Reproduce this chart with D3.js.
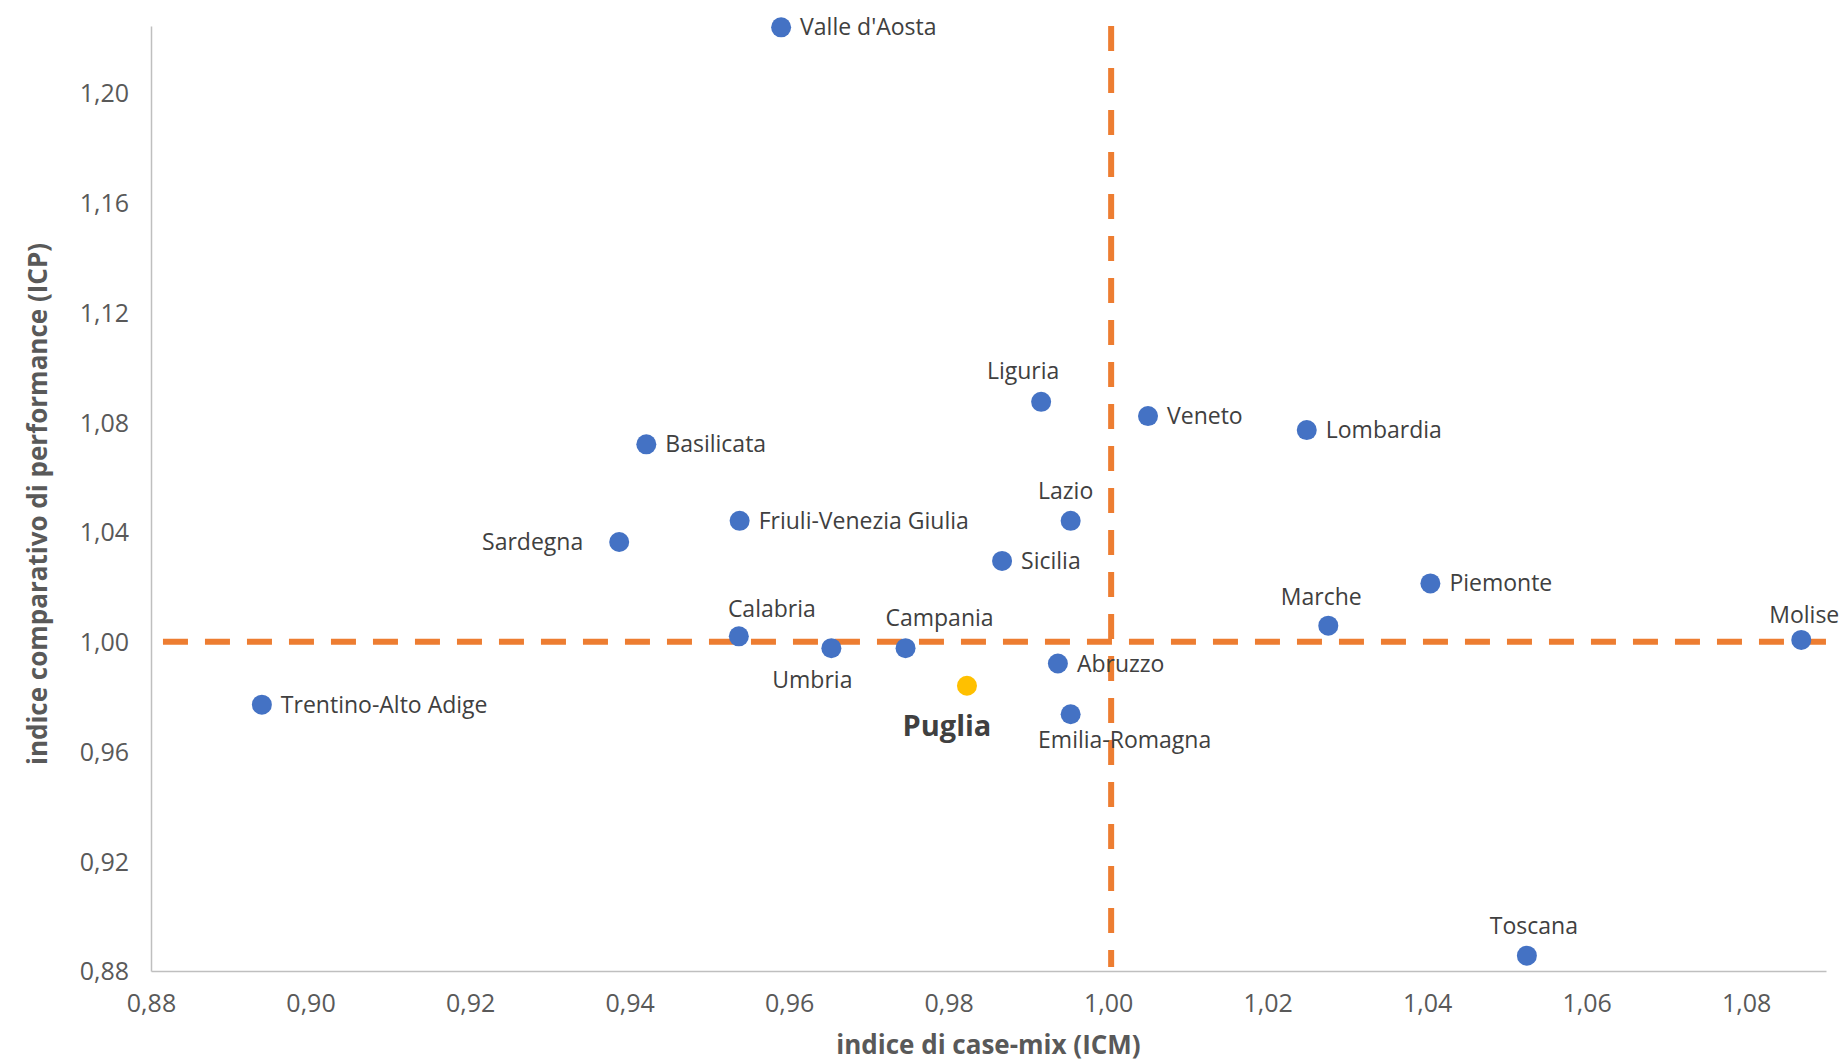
<!DOCTYPE html>
<html>
<head>
<meta charset="utf-8">
<script src="https://cdn.jsdelivr.net/npm/d3@7"></script>
<style>
  body { margin: 0; background: #fff; }
  text { font-family: 'Open Sans', sans-serif; }
</style>
</head>
<body>
<script>
// Regions, case-mix index (x) and comparative performance index (y)
const regions = ['Valle d\'Aosta', 'Liguria', 'Veneto', 'Lombardia', 'Basilicata',
  'Friuli-Venezia Giulia', 'Lazio', 'Sardegna', 'Sicilia', 'Piemonte', 'Marche',
  'Calabria', 'Molise', 'Umbria', 'Campania', 'Abruzzo', 'Puglia',
  'Trentino-Alto Adige', 'Emilia-Romagna', 'Toscana'];
const icm = [0.959, 0.9916, 1.005, 1.0249, 0.9421,
  0.9538, 0.9953, 0.9387, 0.9867, 1.0404, 1.0276,
  0.9537, 1.0869, 0.9653, 0.9746, 0.9937, 0.9823,
  0.8939, 0.9953, 1.0525];
const icp = [1.224, 1.0875, 1.0823, 1.0772, 1.072,
  1.0441, 1.0441, 1.0364, 1.0295, 1.0213, 1.0059,
  1.002, 1.0007, 0.9977, 0.9977, 0.9921, 0.984,
  0.9771, 0.9736, 0.8856];
const highlight = 'Puglia';

const xTicks = [0.88, 0.90, 0.92, 0.94, 0.96, 0.98, 1.00, 1.02, 1.04, 1.06, 1.08];
const yTicks = [0.88, 0.92, 0.96, 1.00, 1.04, 1.08, 1.12, 1.16, 1.20];
const refValue = 1.00;

// label placement: [dx, dy, anchor] relative to the point
const labelPlace = {
  'Valle d\'Aosta': [19, 0, 'start'], 'Liguria': [-18, -31, 'middle'],
  'Veneto': [19, 0, 'start'], 'Lombardia': [19, 0, 'start'],
  'Basilicata': [19, 0, 'start'], 'Friuli-Venezia Giulia': [19, 0, 'start'],
  'Lazio': [-5, -30, 'middle'], 'Sardegna': [-36, 0, 'end'],
  'Sicilia': [19, 0, 'start'], 'Piemonte': [19, 0, 'start'],
  'Marche': [-7, -29, 'middle'], 'Calabria': [33, -27, 'middle'],
  'Molise': [3, -25, 'middle'], 'Umbria': [-19, 32, 'middle'],
  'Campania': [34, -30, 'middle'], 'Abruzzo': [19, 0, 'start'],
  'Puglia': [-20, 40, 'middle'], 'Trentino-Alto Adige': [19, 0, 'start'],
  'Emilia-Romagna': [54, 26, 'middle'], 'Toscana': [7, -30, 'middle']
};

const svgWidth = 1848, svgHeight = 1063;
const plotLeft = 151, plotRight = 1826, plotTop = 26, plotBottom = 971;

const comma = d3.formatLocale({ decimal: ',', thousands: '.', grouping: [3], currency: ['€', ''] }).format('.2f');

const svg = d3.select('body').append('svg')
  .attr('width', svgWidth)
  .attr('height', svgHeight);

const x = d3.scaleLinear().domain([0.88, 1.09]).range([plotLeft, plotRight]);
const y = d3.scaleLinear().domain([0.88, 1.2245]).range([plotBottom, plotTop]);

// axes
const xAxis = d3.axisBottom(x).tickValues(xTicks).tickFormat(comma).tickSize(0).tickPadding(23);
const yAxis = d3.axisLeft(y).tickValues(yTicks).tickFormat(comma).tickSize(0).tickPadding(22);

const gx = svg.append('g').attr('transform', 'translate(0,' + plotBottom + ')').call(xAxis);
const gy = svg.append('g').attr('transform', 'translate(' + plotLeft + ',0)').call(yAxis);

[gx, gy].forEach(g => {
  g.select('.domain').attr('stroke', '#BFBFBF').attr('stroke-width', 1.5);
  g.selectAll('text').attr('fill', '#595959').attr('font-size', 25)
    .attr('font-family', "'Open Sans', sans-serif");
});
gy.selectAll('text').attr('dy', '0.35em');

// reference lines
svg.append('line')
  .attr('x1', x(0.8815)).attr('x2', x(1.09))
  .attr('y1', y(refValue)).attr('y2', y(refValue))
  .attr('stroke', '#ED7D31').attr('stroke-width', 6)
  .attr('stroke-dasharray', '25,17');

svg.append('line')
  .attr('x1', x(refValue) + 3).attr('x2', x(refValue) + 3)
  .attr('y1', y(1.2245)).attr('y2', y(0.8815))
  .attr('stroke', '#ED7D31').attr('stroke-width', 6)
  .attr('stroke-dasharray', '25,17');

// points
const points = regions.map((r, i) => ({ name: r, x: icm[i], y: icp[i] }));

svg.selectAll('circle')
  .data(points)
  .enter()
  .append('circle')
  .attr('cx', d => x(d.x))
  .attr('cy', d => y(d.y))
  .attr('r', 10)
  .attr('fill', d => d.name === highlight ? '#FFC000' : '#4472C4');

// labels
svg.selectAll('.label')
  .data(points)
  .enter()
  .append('text')
  .attr('class', 'label')
  .attr('x', d => x(d.x) + labelPlace[d.name][0])
  .attr('y', d => y(d.y) + labelPlace[d.name][1])
  .attr('dy', '0.35em')
  .attr('text-anchor', d => labelPlace[d.name][2])
  .attr('fill', '#404040')
  .attr('font-size', d => d.name === highlight ? 29 : 23)
  .attr('font-weight', d => d.name === highlight ? 'bold' : 'normal')
  .text(d => d.name);

// axis titles
svg.append('text')
  .attr('x', (plotLeft + plotRight) / 2)
  .attr('y', 1045)
  .attr('dy', '0.35em')
  .attr('text-anchor', 'middle')
  .attr('font-size', 26)
  .attr('font-weight', 'bold')
  .attr('fill', '#595959')
  .text('indice di case-mix (ICM)');

svg.append('text')
  .attr('transform', 'translate(38,' + 504 + ') rotate(-90)')
  .attr('dy', '0.35em')
  .attr('text-anchor', 'middle')
  .attr('font-size', 26)
  .attr('font-weight', 'bold')
  .attr('fill', '#595959')
  .text('indice comparativo di performance (ICP)');
</script>
</body>
</html>
